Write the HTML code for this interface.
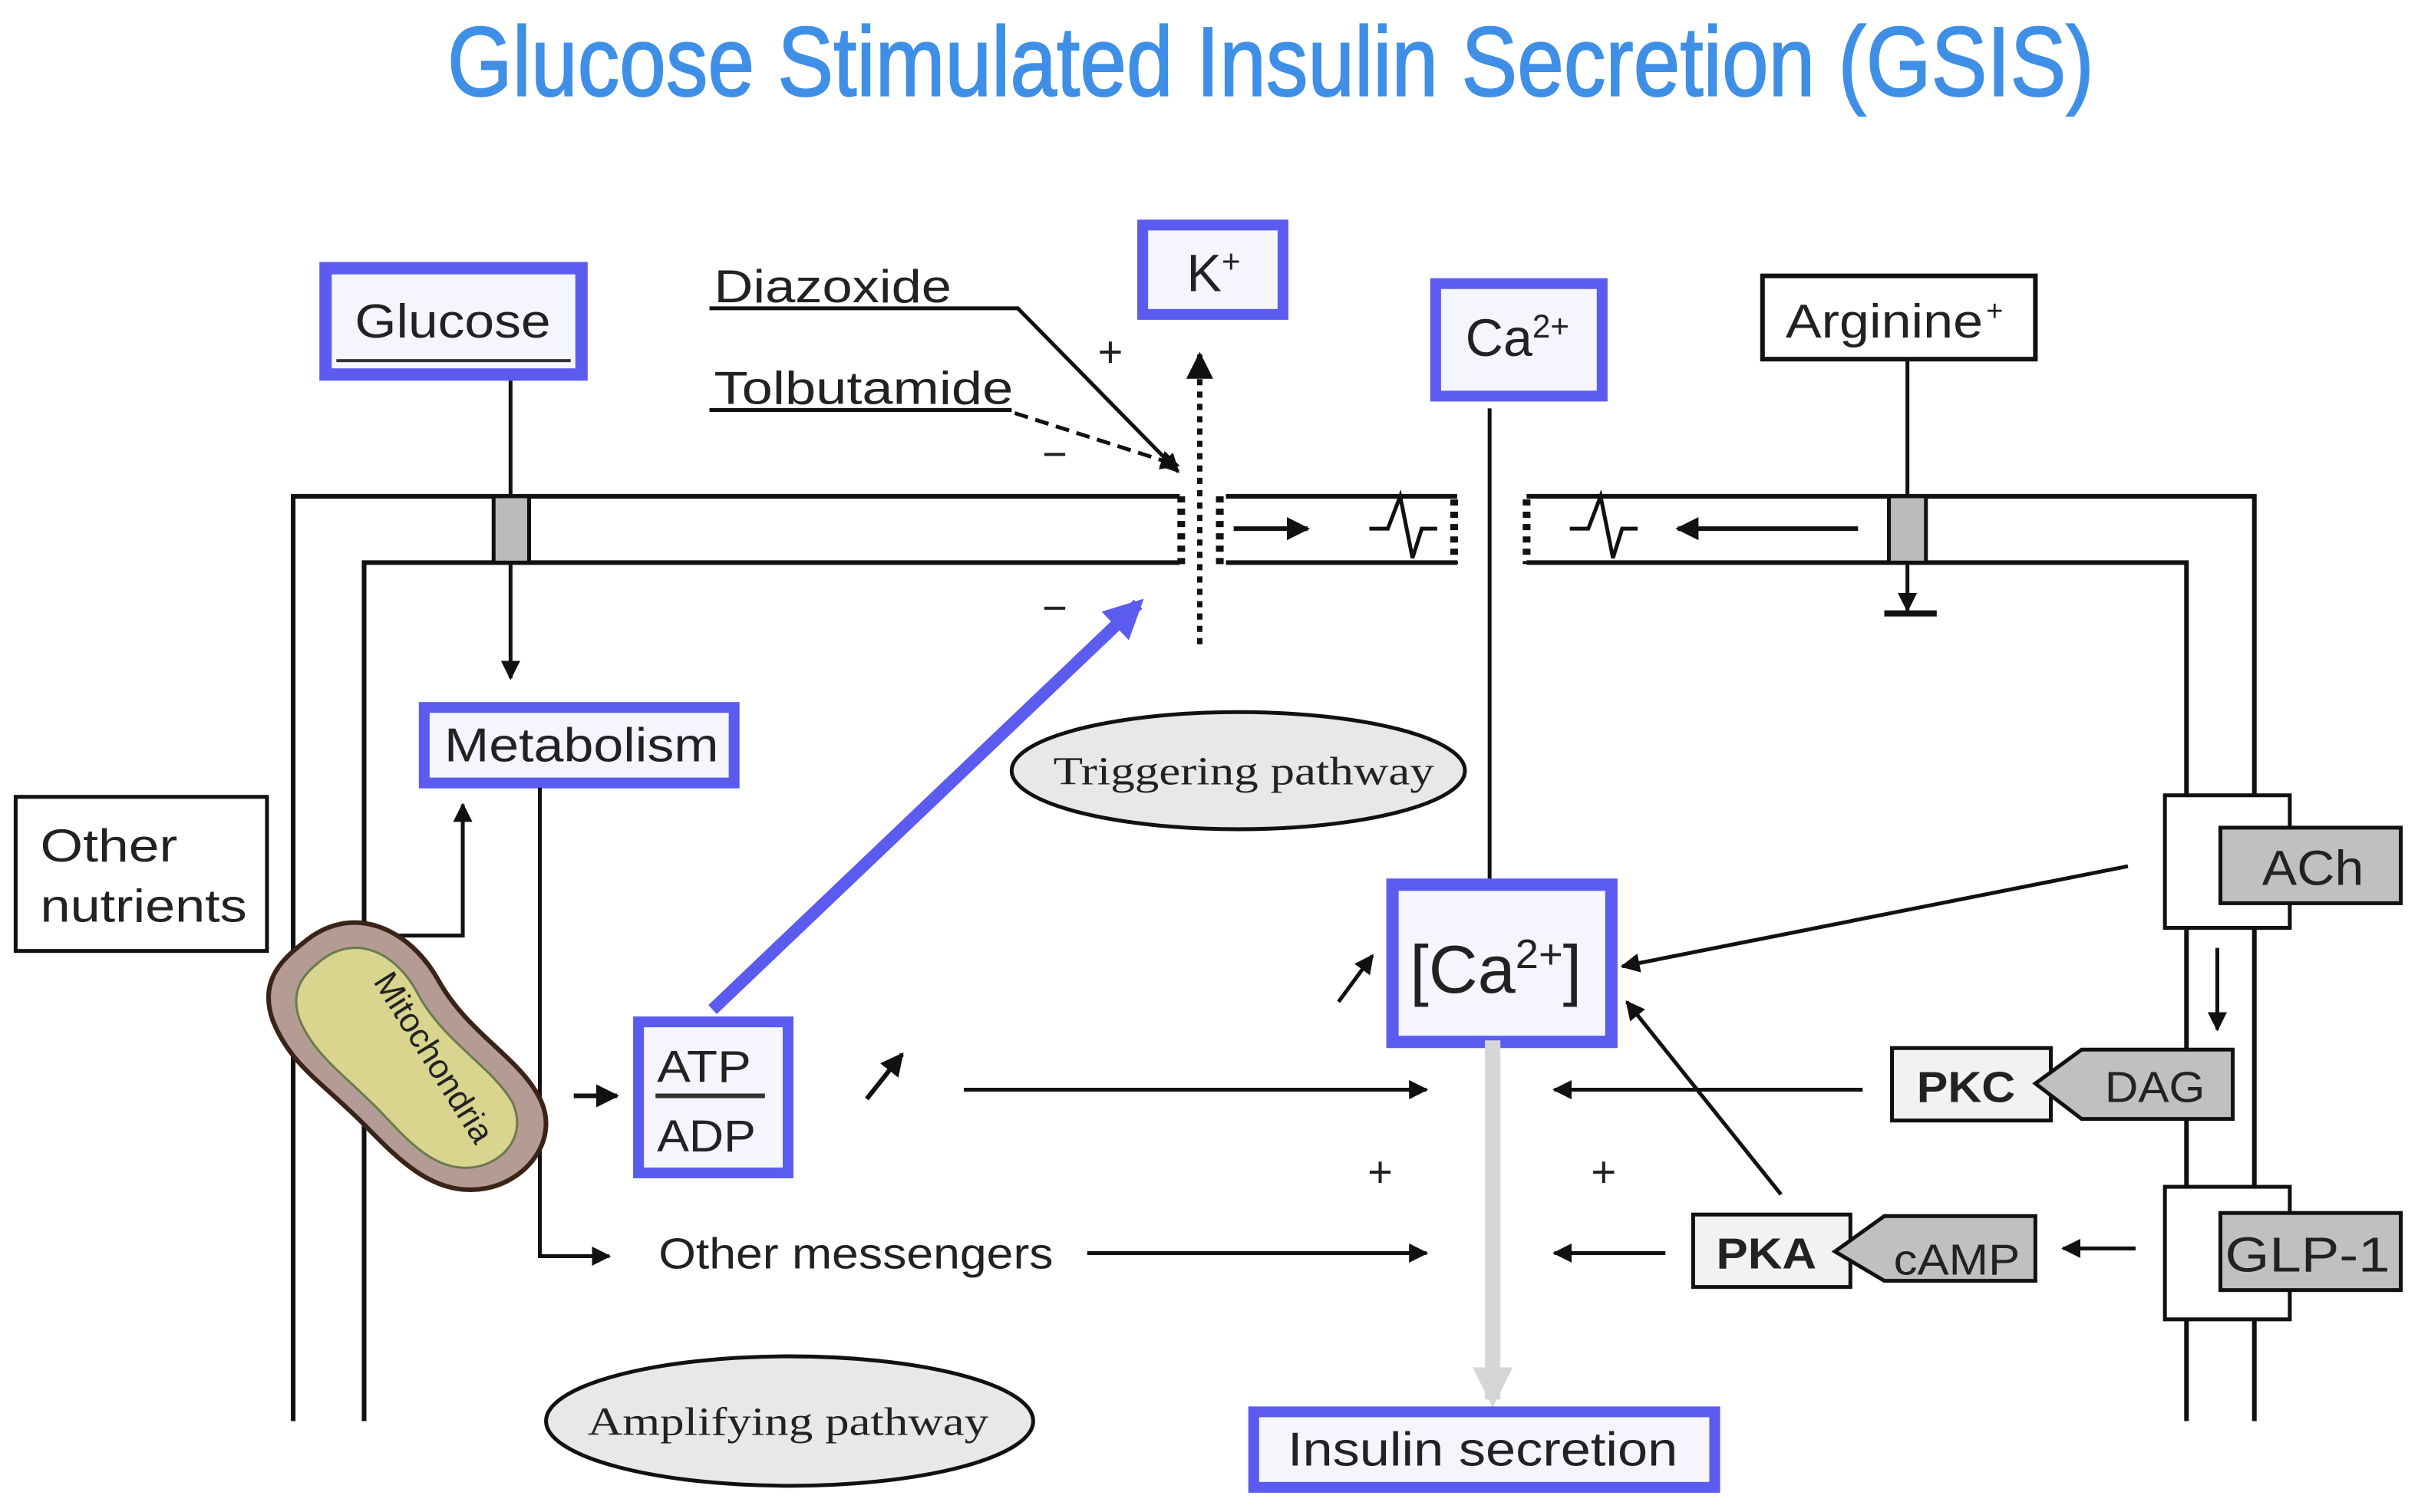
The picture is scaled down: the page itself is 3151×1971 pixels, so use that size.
<!DOCTYPE html>
<html><head><meta charset="utf-8"><style>
html,body{margin:0;padding:0;background:#fff;}
svg{display:block;}
text{font-family:"Liberation Sans",sans-serif;fill:#222;}
.serif{font-family:"Liberation Serif",serif;}
</style></head><body>
<svg width="3151" height="1971" viewBox="0 0 1568 981" xmlns="http://www.w3.org/2000/svg">
<defs>
<marker id="ah" viewBox="0 0 10 10" refX="9" refY="5" markerWidth="5" markerHeight="5" orient="auto-start-reverse"><path d="M0,0 L10,5 L0,10 z" fill="#111"/></marker>
<marker id="bh" viewBox="0 0 10 10" refX="8" refY="5" markerWidth="3.2" markerHeight="3.2" orient="auto"><path d="M0,0 L10,5 L0,10 z" fill="#5b5bef"/></marker>
<marker id="gh" viewBox="0 0 10 10" refX="8" refY="5" markerWidth="2.6" markerHeight="2.6" orient="auto"><path d="M0,0 L10,5 L0,10 z" fill="#d6d6d6"/></marker>
</defs>

<text x="290" y="62" font-size="64" textLength="1068" lengthAdjust="spacingAndGlyphs" style="fill:#3f8fe6;stroke:#3f8fe6;stroke-width:1">Glucose Stimulated Insulin Secretion (GSIS)</text>

<g stroke="#111" stroke-width="3" fill="none">
<polyline points="190,922 190,322 765,322"/>
<line x1="795" y1="322" x2="945" y2="322"/>
<polyline points="990,322 1462,322 1462,922"/>
<polyline points="236,922 236,365 765,365"/>
<line x1="795" y1="365" x2="945" y2="365"/>
<polyline points="990,365 1418,365 1418,922"/>
</g>
<g stroke="#111" stroke-width="5" stroke-dasharray="4,4" fill="none">
<line x1="766" y1="322" x2="766" y2="366"/>
<line x1="791" y1="322" x2="791" y2="366"/>
<line x1="943" y1="324" x2="943" y2="366"/>
<line x1="990" y1="324" x2="990" y2="366"/>
</g>
<line x1="778" y1="418" x2="778" y2="230" stroke="#111" stroke-width="3.5" stroke-dasharray="4,4" marker-end="url(#ah)"/>
<g stroke="#111" stroke-width="2.5" fill="none">
<polyline points="888,343 900,343 908,322 916,362 922,343 932,343"/>
<polyline points="1018,343 1030,343 1038,322 1046,362 1052,343 1062,343"/>
</g>
<line x1="800" y1="343" x2="848" y2="343" stroke="#111" stroke-width="3" marker-end="url(#ah)"/>
<line x1="1205" y1="343" x2="1088" y2="343" stroke="#111" stroke-width="3" marker-end="url(#ah)"/>

<rect x="211" y="174" width="166" height="69" fill="#f5f5fd" stroke="#5b5bef" stroke-width="8"/>
<line x1="218" y1="234" x2="370" y2="234" stroke="#333" stroke-width="2"/>
<text x="230" y="219" font-size="31" textLength="127" lengthAdjust="spacingAndGlyphs">Glucose</text>
<line x1="331" y1="247" x2="331" y2="322" stroke="#111" stroke-width="2.5"/>
<rect x="320" y="322" width="23" height="43" fill="#bbb" stroke="#111" stroke-width="2.5"/>
<line x1="331" y1="365" x2="331" y2="440" stroke="#111" stroke-width="2.5" marker-end="url(#ah)"/>

<rect x="275" y="459" width="201" height="49" fill="#f5f5fd" stroke="#5b5bef" stroke-width="7"/>
<text x="288" y="494" font-size="31" textLength="178" lengthAdjust="spacingAndGlyphs">Metabolism</text>
<polyline points="350,511 350,815 395,815" stroke="#111" stroke-width="2.5" fill="none" marker-end="url(#ah)"/>

<rect x="10" y="517" width="163" height="100" fill="#fff" stroke="#111" stroke-width="2.5"/>
<text x="26" y="559" font-size="30" textLength="89" lengthAdjust="spacingAndGlyphs">Other</text>
<text x="26" y="598" font-size="30" textLength="134" lengthAdjust="spacingAndGlyphs">nutrients</text>
<polyline points="245,607 300,607 300,522" stroke="#111" stroke-width="2.5" fill="none" marker-end="url(#ah)"/>

<g transform="translate(262,688) rotate(-35)">
<path d="M-10,-100 C30,-104 52,-70 48,-30 C44,10 62,40 58,70 C54,100 20,110 -5,98 C-35,84 -40,50 -45,20 C-52,-20 -62,-40 -55,-70 C-48,-95 -30,-99 -10,-100 Z" fill="#b49c94" stroke="#3a2418" stroke-width="3"/>
<path d="M-8,-84 C22,-86 36,-60 32,-30 C28,5 44,35 42,62 C38,86 14,92 -4,82 C-26,70 -28,42 -32,16 C-38,-18 -46,-38 -40,-62 C-34,-80 -22,-83 -8,-84 Z" fill="#d9d48e" stroke="#6a7a50" stroke-width="1.5"/>
</g>
<text x="0" y="0" font-size="22" text-anchor="middle" transform="translate(275,690) rotate(58)">Mitochondria</text>

<line x1="372" y1="711" x2="400" y2="711" stroke="#111" stroke-width="3" marker-end="url(#ah)"/>
<rect x="414" y="663" width="97" height="98" fill="#f5f5fd" stroke="#5b5bef" stroke-width="7"/>
<text x="426" y="702" font-size="29" textLength="61" lengthAdjust="spacingAndGlyphs">ATP</text>
<line x1="425" y1="711" x2="496" y2="711" stroke="#333" stroke-width="3"/>
<text x="426" y="747" font-size="29" textLength="64" lengthAdjust="spacingAndGlyphs">ADP</text>

<line x1="462" y1="655" x2="738" y2="392" stroke="#5b5bef" stroke-width="8" marker-end="url(#bh)"/>
<line x1="562" y1="713" x2="585" y2="684" stroke="#111" stroke-width="3" marker-end="url(#ah)"/>
<line x1="625" y1="707" x2="925" y2="707" stroke="#111" stroke-width="2.5" marker-end="url(#ah)"/>
<text x="427" y="823" font-size="28" textLength="256" lengthAdjust="spacingAndGlyphs">Other messengers</text>
<line x1="705" y1="813" x2="925" y2="813" stroke="#111" stroke-width="2.5" marker-end="url(#ah)"/>

<ellipse cx="512" cy="922" rx="158" ry="42" fill="#e8e8e8" stroke="#111" stroke-width="2.5"/>
<text x="381" y="931" font-size="26" class="serif" textLength="260" lengthAdjust="spacingAndGlyphs">Amplifying pathway</text>
<ellipse cx="803" cy="500" rx="147" ry="38" fill="#e8e8e8" stroke="#111" stroke-width="2.5"/>
<text x="683" y="509" font-size="26" class="serif" textLength="247" lengthAdjust="spacingAndGlyphs">Triggering pathway</text>

<rect x="741" y="146" width="91" height="58" fill="#f5f5fd" stroke="#5b5bef" stroke-width="7"/>
<text x="787" y="189" font-size="34" text-anchor="middle">K<tspan font-size="21" dy="-12">+</tspan></text>

<text x="463" y="196" font-size="30" textLength="154" lengthAdjust="spacingAndGlyphs">Diazoxide</text>
<polyline points="460,200 660,200 764,306" stroke="#111" stroke-width="2.5" fill="none" marker-end="url(#ah)"/>
<text x="463" y="262" font-size="30" textLength="194" lengthAdjust="spacingAndGlyphs">Tolbutamide</text>
<line x1="460" y1="266" x2="656" y2="266" stroke="#111" stroke-width="2.5"/>
<line x1="658" y1="268" x2="764" y2="302" stroke="#111" stroke-width="2.5" stroke-dasharray="9,5" marker-end="url(#ah)"/>
<text x="720" y="238" font-size="28" text-anchor="middle">+</text>
<text x="684" y="304" font-size="28" text-anchor="middle">−</text>
<text x="684" y="404" font-size="28" text-anchor="middle">−</text>

<rect x="931" y="184" width="108" height="73" fill="#f5f5fd" stroke="#5b5bef" stroke-width="7"/>
<text x="984" y="231" font-size="34" text-anchor="middle">Ca<tspan font-size="21" dy="-12">2+</tspan></text>
<line x1="966" y1="265" x2="966" y2="582" stroke="#111" stroke-width="2.5" marker-end="url(#ah)"/>

<rect x="1143" y="179" width="177" height="54" fill="#fff" stroke="#111" stroke-width="3"/>
<text x="1158" y="219" font-size="31" textLength="128" lengthAdjust="spacingAndGlyphs">Arginine</text><text x="1288" y="208" font-size="19">+</text>
<line x1="1237" y1="233" x2="1237" y2="322" stroke="#111" stroke-width="2.5"/>
<rect x="1225" y="322" width="24" height="43" fill="#bbb" stroke="#111" stroke-width="2.5"/>
<line x1="1237" y1="365" x2="1237" y2="396" stroke="#111" stroke-width="2.5" marker-end="url(#ah)"/>
<line x1="1222" y1="398" x2="1256" y2="398" stroke="#111" stroke-width="4"/>

<rect x="1404" y="516" width="81" height="86" fill="#fff" stroke="#111" stroke-width="2.5"/>
<rect x="1440" y="537" width="117" height="49" fill="#c0c0c0" stroke="#111" stroke-width="2.5"/>
<text x="1467" y="574" font-size="32" textLength="66" lengthAdjust="spacingAndGlyphs">ACh</text>
<line x1="1438" y1="615" x2="1438" y2="668" stroke="#111" stroke-width="2.5" marker-end="url(#ah)"/>
<rect x="1404" y="770" width="81" height="86" fill="#fff" stroke="#111" stroke-width="2.5"/>
<rect x="1440" y="787" width="117" height="50" fill="#c0c0c0" stroke="#111" stroke-width="2.5"/>
<text x="1443" y="825" font-size="32" textLength="107" lengthAdjust="spacingAndGlyphs">GLP-1</text>

<rect x="1227" y="680" width="103" height="47" fill="#f2f2f2" stroke="#111" stroke-width="2.5"/>
<polygon points="1320,703 1350,681 1448,681 1448,726 1350,726" fill="#c0c0c0" stroke="#111" stroke-width="2.5"/>
<text x="1243" y="715" font-size="28" font-weight="bold" textLength="64" lengthAdjust="spacingAndGlyphs">PKC</text>
<text x="1365" y="715" font-size="28" textLength="65" lengthAdjust="spacingAndGlyphs">DAG</text>
<line x1="1208" y1="707" x2="1008" y2="707" stroke="#111" stroke-width="2.5" marker-end="url(#ah)"/>

<rect x="1098" y="788" width="102" height="47" fill="#f2f2f2" stroke="#111" stroke-width="2.5"/>
<polygon points="1190,812 1222,789 1320,789 1320,831 1222,831" fill="#c0c0c0" stroke="#111" stroke-width="2.5"/>
<text x="1113" y="823" font-size="28" font-weight="bold" textLength="65" lengthAdjust="spacingAndGlyphs">PKA</text>
<text x="1228" y="827" font-size="28" textLength="82" lengthAdjust="spacingAndGlyphs">cAMP</text>
<line x1="1080" y1="813" x2="1008" y2="813" stroke="#111" stroke-width="2.5" marker-end="url(#ah)"/>
<line x1="1385" y1="810" x2="1338" y2="810" stroke="#111" stroke-width="2.5" marker-end="url(#ah)"/>

<text x="895" y="770" font-size="28" text-anchor="middle">+</text>
<text x="1040" y="770" font-size="28" text-anchor="middle">+</text>

<line x1="1380" y1="562" x2="1052" y2="627" stroke="#111" stroke-width="2.5" marker-end="url(#ah)"/>
<line x1="1155" y1="775" x2="1055" y2="650" stroke="#111" stroke-width="2.5" marker-end="url(#ah)"/>
<line x1="868" y1="650" x2="890" y2="620" stroke="#111" stroke-width="2.5" marker-end="url(#ah)"/>
<rect x="903" y="574" width="142" height="102" fill="#f5f5fd" stroke="#5b5bef" stroke-width="8"/>
<text x="970" y="644" font-size="44" text-anchor="middle">[Ca<tspan font-size="27" dy="-16">2+</tspan><tspan dy="16">]</tspan></text>
<line x1="968" y1="675" x2="968" y2="908" stroke="#d6d6d6" stroke-width="10" marker-end="url(#gh)"/>

<rect x="813" y="916" width="299" height="49" fill="#f5f5fd" stroke="#5b5bef" stroke-width="7"/>
<text x="835" y="951" font-size="31" textLength="253" lengthAdjust="spacingAndGlyphs">Insulin secretion</text>
</svg>
</body></html>
